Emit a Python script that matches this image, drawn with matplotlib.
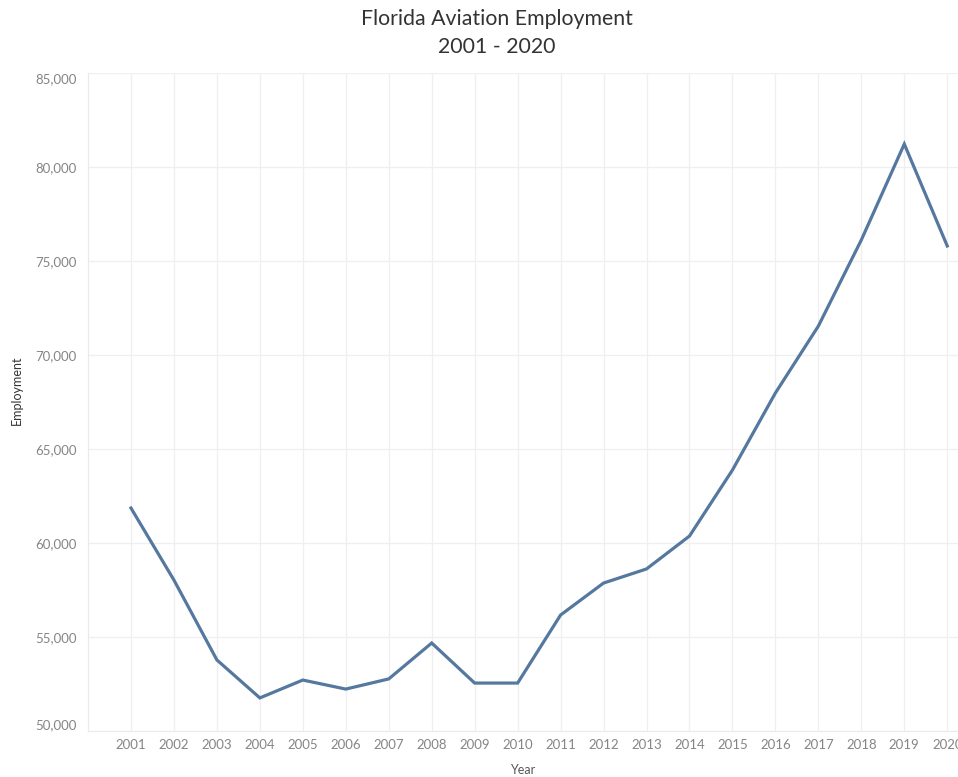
import matplotlib.pyplot as plt
from matplotlib.ticker import FuncFormatter

plt.rcParams['font.family'] = ['Lato', 'DejaVu Sans']

# data
years = list(range(2001, 2021))
employment = [61860, 58030, 53780, 51760, 52710, 52230, 52770, 54680, 52550, 52550,
              56170, 57870, 58620, 60370, 63880, 67980, 71540, 76120, 81220, 75800]
y_ticks = [50000, 55000, 60000, 65000, 70000, 75000, 80000, 85000]

fig = plt.figure(figsize=(9.58, 7.77), dpi=100)
ax = fig.add_axes([88 / 958, 1 - 731 / 777, 1 - 88 / 958, (731 - 73) / 777])

ax.plot(years, employment, color='#55789f', linewidth=2.3, solid_joinstyle='miter')

ax.set_xlim(2000, 2020.25)
ax.set_ylim(50000, 85000)
ax.set_xticks(years)
ax.set_xticklabels([str(y) for y in years])
ax.set_yticks(y_ticks)
ax.yaxis.set_major_formatter(FuncFormatter(lambda v, p: f'{int(v):,}'))

ax.grid(True, color='#efefef', linewidth=0.9)
ax.set_axisbelow(True)
for side in ['top', 'right']:
    ax.spines[side].set_visible(False)
ax.spines['left'].set_color('#eaeaea')
ax.spines['bottom'].set_color('#eaeaea')
ax.tick_params(axis='both', length=0, colors='#858585', labelsize=9.5, pad=6)
ax.tick_params(axis='y', pad=8)

# nudge the end labels of the y axis inward like the original
ylabels = ax.get_yticklabels()
ylabels[0].set_verticalalignment('bottom')
ylabels[-1].set_verticalalignment('top')

ax.set_xlabel('Year', color='#555555', fontsize=9, labelpad=9)
fig.text(17 / 958, 1 - 390 / 777, 'Employment', rotation=90, ha='center', va='center',
         color='#333833', fontsize=9)

fig.text(497 / 958, 1 - 19 / 777, 'Florida Aviation Employment', ha='center', va='center',
         color='#333333', fontsize=15.3)
fig.text(497 / 958, 1 - 47 / 777, '2001 - 2020', ha='center', va='center',
         color='#333333', fontsize=15.3)

plt.savefig('out.png', dpi=100)
